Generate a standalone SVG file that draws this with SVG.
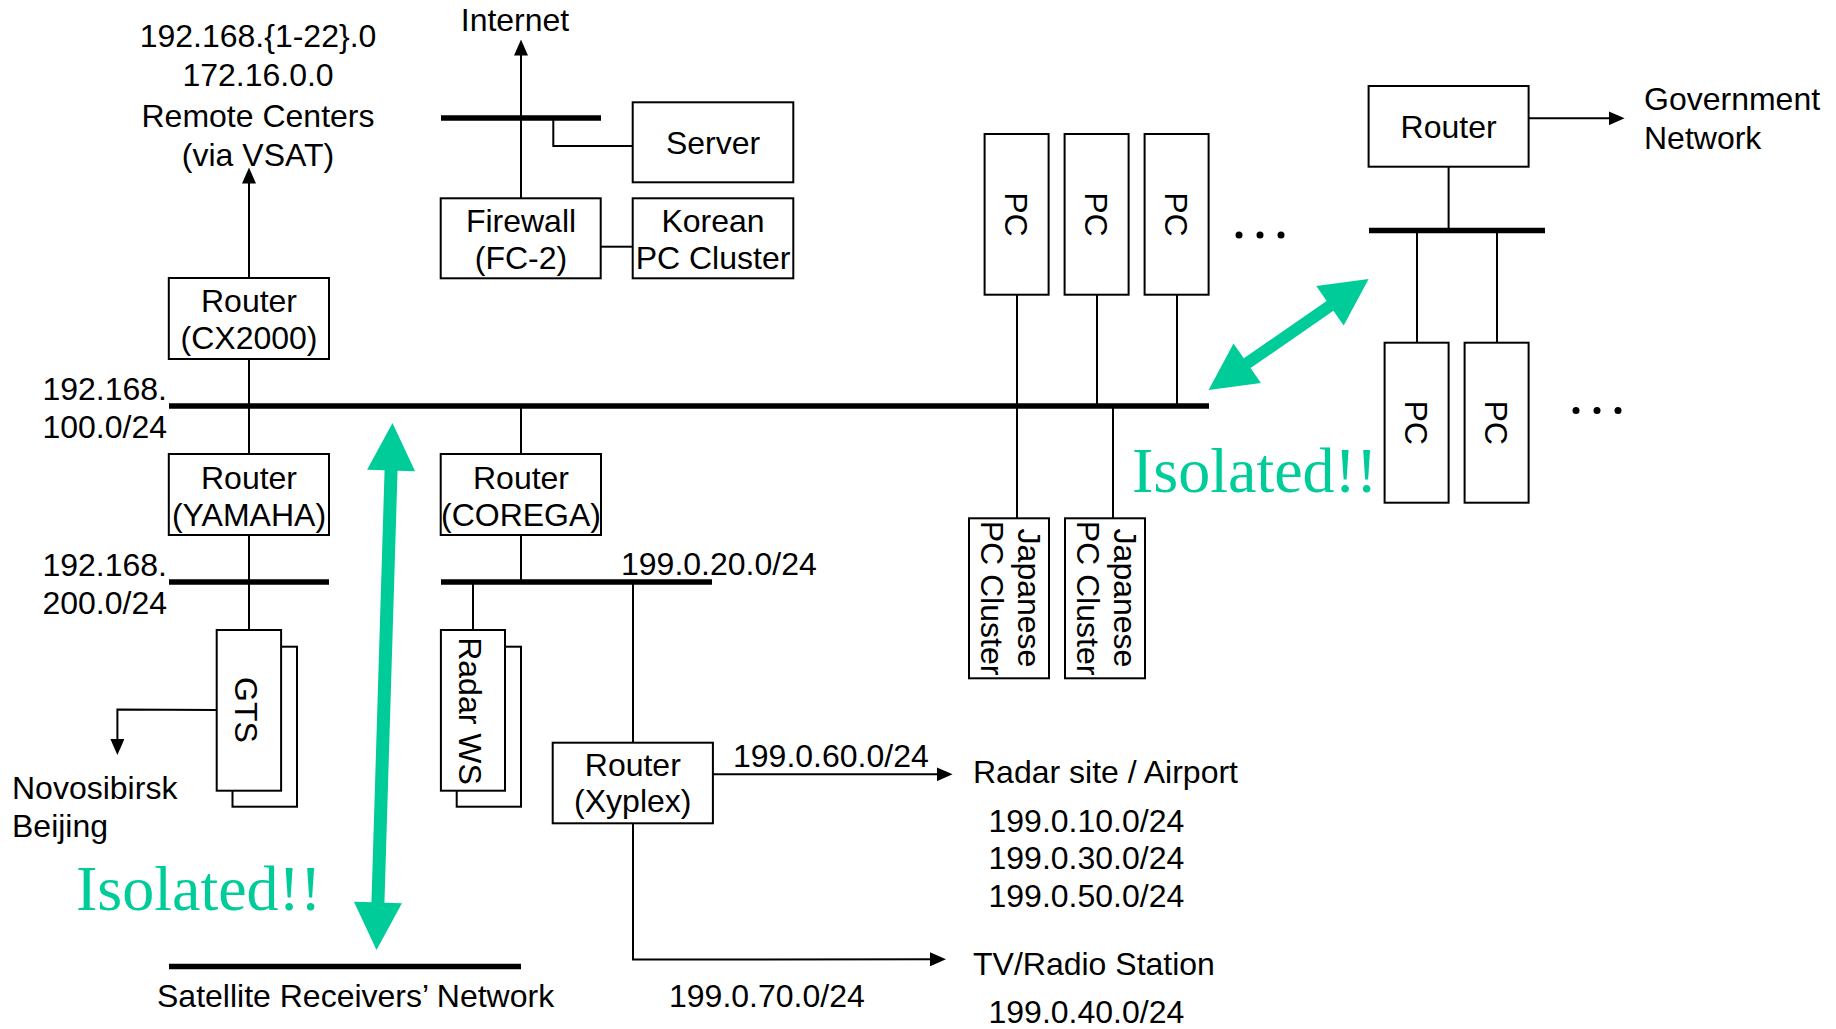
<svg xmlns="http://www.w3.org/2000/svg" width="1836" height="1029" viewBox="0 0 1836 1029">
<style>
  text { font-family: "Liberation Sans", Arial, sans-serif; font-size: 32px; fill: #000; }
  .c { text-anchor: middle; }
  .e { text-anchor: end; }
  .box { fill: #fff; stroke: #000; stroke-width: 2; }
  .bus { stroke: #000; stroke-width: 5.5; fill: none; }
  .ln { stroke: #000; stroke-width: 2; fill: none; }
  .arr { stroke: #000; stroke-width: 2; fill: none; marker-end: url(#head); }
  .green { fill: #00CC99; stroke: none; }
  .iso { font-family: "Liberation Serif", "Times New Roman", serif; font-size: 64px; fill: #00CC99; }
  .dot { fill: #000; }
</style>
<defs>
  <marker id="head" viewBox="0 0 16 14" refX="8" refY="7" markerWidth="16" markerHeight="14" markerUnits="userSpaceOnUse" orient="auto">
    <path d="M0,0 L16,7 L0,14 z" fill="#000"/>
  </marker>
</defs>
<rect width="1836" height="1029" fill="#fff"/>

<g id="connectors">
  <!-- buses -->
  <line class="bus" x1="169" y1="406" x2="1209" y2="406"/>
  <line class="bus" x1="441" y1="118" x2="601" y2="118"/>
  <line class="bus" x1="169" y1="582" x2="329" y2="582"/>
  <line class="bus" x1="441" y1="582" x2="712" y2="582"/>
  <line class="bus" x1="1369" y1="230.5" x2="1545" y2="230.5"/>
  <line class="bus" x1="169" y1="966.5" x2="521" y2="966.5"/>
  <!-- thin connections -->
  <line class="arr" x1="249" y1="278" x2="249" y2="175.5"/>
  <line class="arr" x1="521" y1="198" x2="521" y2="47.5"/>
  <polyline class="ln" points="553.3,118 553.3,146 632.7,146"/>
  <line class="ln" x1="601" y1="246.7" x2="632.7" y2="246.7"/>
  <line class="ln" x1="249" y1="359" x2="249" y2="406"/>
  <line class="ln" x1="249" y1="406" x2="249" y2="454"/>
  <line class="ln" x1="249" y1="535" x2="249" y2="630"/>
  <line class="ln" x1="521" y1="406" x2="521" y2="454"/>
  <line class="ln" x1="521" y1="535" x2="521" y2="582"/>
  <line class="ln" x1="473" y1="582" x2="473" y2="630"/>
  <line class="ln" x1="633" y1="582" x2="633" y2="742.7"/>
  <polyline class="arr" points="216.7,710 117.4,709.5 117.4,747"/>
  <line class="arr" x1="713" y1="774.3" x2="944.6" y2="774.3"/>
  <polyline class="arr" points="633,823.3 633,959.5 938,959.3"/>
  <line class="ln" x1="1017" y1="294.7" x2="1017" y2="518.3"/>
  <line class="ln" x1="1097" y1="294.7" x2="1097" y2="406"/>
  <line class="ln" x1="1177" y1="294.7" x2="1177" y2="406"/>
  <line class="ln" x1="1113" y1="406" x2="1113" y2="518.3"/>
  <line class="ln" x1="1448.6" y1="166.7" x2="1448.6" y2="230.5"/>
  <line class="arr" x1="1528.6" y1="118.3" x2="1616.6" y2="118.3"/>
  <line class="ln" x1="1417" y1="230.5" x2="1417" y2="342.7"/>
  <line class="ln" x1="1497" y1="230.5" x2="1497" y2="342.7"/>
  <!-- green "isolated" arrows -->
  <polygon class="green" points="1208.6,390 1233.5,343.5 1243.8,358.3 1326.6,300.9 1316.3,286.1 1368.6,279 1343.7,325.5 1333.4,310.7 1250.6,368.1 1260.9,382.9"/>
  <polygon class="green" points="392.5,423 415.05,471.2 397.56,470.7 384.44,902.7 401.93,903.2 376.5,950 353.95,901.8 371.44,902.3 384.56,470.3 367.07,469.8"/>
</g>

<g id="remote-centers">
  <text class="c" x="258" y="47">192.168.{1-22}.0</text>
  <text class="c" x="258" y="86">172.16.0.0</text>
  <text class="c" x="258" y="126.5">Remote Centers</text>
  <text class="c" x="258" y="165.5">(via VSAT)</text>
</g>
<g id="internet"><text class="c" x="515" y="31">Internet</text></g>

<g id="router-cx2000">
  <rect class="box" x="168.8" y="278" width="160.2" height="81"/>
  <text class="c" x="249" y="312">Router</text>
  <text class="c" x="249" y="348.5">(CX2000)</text>
</g>
<g id="firewall">
  <rect class="box" x="440.7" y="198.3" width="160" height="80"/>
  <text class="c" x="521" y="232">Firewall</text>
  <text class="c" x="521" y="268.5">(FC-2)</text>
</g>
<g id="server">
  <rect class="box" x="632.7" y="102.3" width="160.6" height="80"/>
  <text class="c" x="713" y="153.5">Server</text>
</g>
<g id="korean-cluster">
  <rect class="box" x="632.7" y="198.3" width="160.6" height="80"/>
  <text class="c" x="713" y="232">Korean</text>
  <text class="c" x="713" y="268.5">PC Cluster</text>
</g>

<g id="label-100">
  <text class="e" x="167" y="399.5">192.168.</text>
  <text class="e" x="167" y="437.5">100.0/24</text>
</g>
<g id="label-200">
  <text class="e" x="167" y="575.5">192.168.</text>
  <text class="e" x="167" y="613.5">200.0/24</text>
</g>

<g id="router-yamaha">
  <rect class="box" x="168.8" y="454" width="160.2" height="81"/>
  <text class="c" x="249" y="488.5">Router</text>
  <text class="c" x="249" y="525.5">(YAMAHA)</text>
</g>
<g id="router-corega">
  <rect class="box" x="440.7" y="454" width="160.3" height="81"/>
  <text class="c" x="521" y="488.5">Router</text>
  <text class="c" x="521" y="525.5">(COREGA)</text>
</g>
<g id="label-199-20"><text x="621" y="575">199.0.20.0/24</text></g>

<g id="gts">
  <rect class="box" x="232.5" y="646.7" width="64.5" height="160"/>
  <rect class="box" x="216.7" y="630" width="64.4" height="160.7"/>
  <text class="c" transform="translate(235,710) rotate(90)">GTS</text>
</g>
<g id="novosibirsk">
  <text x="12" y="798.5">Novosibirsk</text>
  <text x="12" y="837">Beijing</text>
</g>
<g id="radar-ws">
  <rect class="box" x="456.7" y="646.7" width="64.3" height="160"/>
  <rect class="box" x="440.9" y="630" width="64.1" height="160.7"/>
  <text class="c" transform="translate(459,711) rotate(90)">Radar WS</text>
</g>

<g id="router-xyplex">
  <rect class="box" x="552.7" y="742.7" width="160.2" height="80.6"/>
  <text class="c" x="632.8" y="775.5">Router</text>
  <text class="c" x="632.8" y="812">(Xyplex)</text>
</g>
<g id="label-199-60"><text x="733" y="767">199.0.60.0/24</text></g>
<g id="radar-site">
  <text x="973" y="783">Radar site / Airport</text>
  <text x="988.5" y="831.5">199.0.10.0/24</text>
  <text x="988.5" y="869.3">199.0.30.0/24</text>
  <text x="988.5" y="907">199.0.50.0/24</text>
</g>
<g id="tv-radio">
  <text x="973" y="975">TV/Radio Station</text>
  <text x="988.5" y="1022.5">199.0.40.0/24</text>
</g>
<g id="label-199-70"><text x="669" y="1006.7">199.0.70.0/24</text></g>
<g id="satellite">
  <text x="157" y="1006.7">Satellite Receivers’ Network</text>
</g>

<g id="isolated-left"><text class="iso" x="76" y="910">Isolated!!</text></g>
<g id="isolated-right"><text class="iso" x="1132" y="492">Isolated!!</text></g>

<g id="pc-1">
  <rect class="box" x="984.6" y="134" width="64" height="160.7"/>
  <text class="c" transform="translate(1005,214.4) rotate(90)">PC</text>
</g>
<g id="pc-2">
  <rect class="box" x="1064.6" y="134" width="64" height="160.7"/>
  <text class="c" transform="translate(1085,214.4) rotate(90)">PC</text>
</g>
<g id="pc-3">
  <rect class="box" x="1144.6" y="134" width="64" height="160.7"/>
  <text class="c" transform="translate(1165,214.4) rotate(90)">PC</text>
</g>
<g id="dots-top">
  <circle class="dot" cx="1239" cy="235" r="3.5"/>
  <circle class="dot" cx="1260" cy="235" r="3.5"/>
  <circle class="dot" cx="1281" cy="235" r="3.5"/>
</g>

<g id="japanese-cluster-1">
  <rect class="box" x="969" y="518.3" width="80" height="160"/>
  <text class="c" transform="translate(1018,598) rotate(90)">Japanese</text>
  <text class="c" transform="translate(981,598) rotate(90)">PC Cluster</text>
</g>
<g id="japanese-cluster-2">
  <rect class="box" x="1065" y="518.3" width="80" height="160"/>
  <text class="c" transform="translate(1114,598) rotate(90)">Japanese</text>
  <text class="c" transform="translate(1077,598) rotate(90)">PC Cluster</text>
</g>

<g id="router-gov">
  <rect class="box" x="1368.6" y="86" width="160" height="80.7"/>
  <text class="c" x="1448.6" y="138">Router</text>
</g>
<g id="government">
  <text x="1644" y="110">Government</text>
  <text x="1644" y="148.5">Network</text>
</g>
<g id="pc-4">
  <rect class="box" x="1384.6" y="342.7" width="64" height="160"/>
  <text class="c" transform="translate(1405,422.7) rotate(90)">PC</text>
</g>
<g id="pc-5">
  <rect class="box" x="1464.6" y="342.7" width="64" height="160"/>
  <text class="c" transform="translate(1485,422.7) rotate(90)">PC</text>
</g>
<g id="dots-right">
  <circle class="dot" cx="1576" cy="410.5" r="3.5"/>
  <circle class="dot" cx="1597" cy="410.5" r="3.5"/>
  <circle class="dot" cx="1618" cy="410.5" r="3.5"/>
</g>
</svg>
